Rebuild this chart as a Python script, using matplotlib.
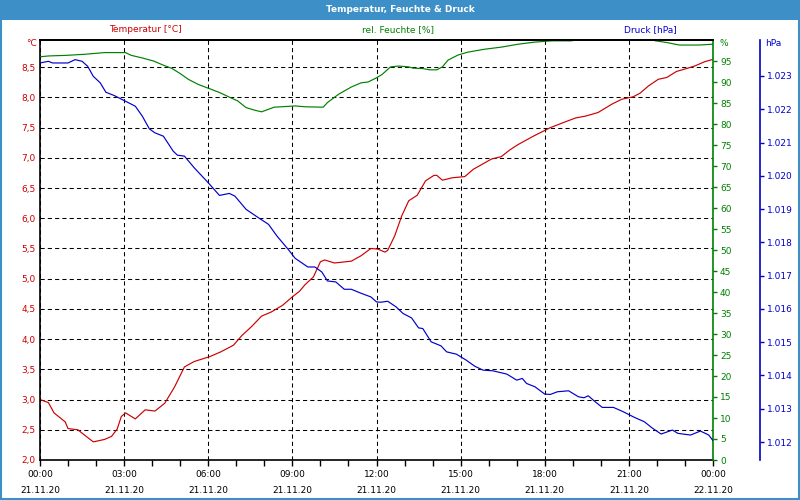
import matplotlib
matplotlib.use("Agg")
import matplotlib.pyplot as plt
import matplotlib.dates as mdates
import matplotlib.ticker as mticker
from matplotlib.patches import Rectangle
import numpy as np
import pandas as pd

# ---------------- data ----------------
base_day = "2020-11-21"

temp_hours = [0.0, 0.3, 0.5, 0.9, 1.0, 1.35, 1.65, 1.9, 2.3, 2.55, 2.75, 2.9, 3.05, 3.4, 3.75,
              4.1, 4.45, 4.8, 5.15, 5.5, 6.05, 6.45, 6.9, 7.2, 7.55, 7.9, 8.25, 8.65, 9.0, 9.25,
              9.45, 9.75, 10.0, 10.15, 10.5, 11.1, 11.45, 11.8, 12.05, 12.3, 12.4, 12.65, 12.9,
              13.15, 13.45, 13.75, 14.05, 14.15, 14.35, 14.7, 15.15, 15.45, 16.1, 16.45, 16.75,
              17.05, 17.6, 18.2, 18.7, 19.1, 19.45, 19.9, 20.4, 20.75, 21.15, 21.4, 21.7, 22.05,
              22.35, 22.7, 23.0, 23.35, 23.7, 24.0]
temp_values = [3.00, 2.95, 2.78, 2.63, 2.52, 2.50, 2.39, 2.30, 2.34, 2.39, 2.51, 2.72, 2.78, 2.68, 2.83,
               2.81, 2.94, 3.21, 3.54, 3.63, 3.71, 3.79, 3.90, 4.06, 4.21, 4.38, 4.45, 4.56, 4.70, 4.79,
               4.90, 5.03, 5.28, 5.31, 5.26, 5.29, 5.38, 5.50, 5.49, 5.44, 5.47, 5.71, 6.04,
               6.29, 6.38, 6.62, 6.71, 6.71, 6.63, 6.67, 6.69, 6.81, 6.98, 7.02, 7.13,
               7.22, 7.36, 7.50, 7.59, 7.66, 7.69, 7.75, 7.89, 7.97, 8.01, 8.07, 8.19, 8.30,
               8.33, 8.43, 8.47, 8.52, 8.59, 8.63]

hum_hours = [0.0, 0.3, 0.95, 1.6, 2.3, 3.05, 3.25, 3.6, 4.05, 4.4, 4.7, 5.0, 5.3, 5.65, 6.05, 6.4,
             6.75, 7.05, 7.35, 7.65, 7.9, 8.15, 8.35, 9.1, 9.45, 10.1, 10.25, 10.65, 11.1, 11.45,
             11.7, 12.0, 12.2, 12.5, 12.8, 13.15, 13.3, 13.65, 13.9, 14.15, 14.35, 14.55, 14.9,
             15.25, 15.85, 16.45, 17.05, 17.65, 18.25, 18.95, 19.1, 19.5, 21.0, 21.85, 21.95,
             22.35, 22.8, 23.5, 24.0]
hum_values = [96.0, 96.2, 96.35, 96.6, 97.0, 97.0, 96.35, 95.8, 95.0, 94.0, 93.25, 92.0, 90.6, 89.4,
              88.4, 87.5, 86.4, 85.5, 83.9, 83.3, 82.9, 83.5, 84.0, 84.3, 84.1, 84.0, 85.1, 87.1,
              88.8, 89.8, 90.0, 91.0, 91.8, 93.6, 93.8, 93.6, 93.3, 93.2, 92.9, 92.9, 93.6, 95.2,
              96.4, 97.1, 97.8, 98.3, 99.0, 99.5, 99.8, 99.8, 100.0, 100.0, 100.0, 100.0, 99.8,
              99.4, 98.8, 98.8, 99.0]

press_hours = [0.0, 0.3, 0.45, 1.0, 1.25, 1.5, 1.7, 1.9, 2.15, 2.35, 2.65, 3.05, 3.4, 3.65, 3.9,
               4.1, 4.4, 4.75, 4.9, 5.15, 5.5, 6.0, 6.4, 6.75, 6.95, 7.35, 7.7, 8.15, 8.45, 8.85,
               9.1, 9.55, 9.8, 10.05, 10.25, 10.55, 10.85, 11.1, 11.45, 11.8, 12.0, 12.15, 12.4,
               12.7, 12.95, 13.25, 13.5, 13.65, 13.95, 14.3, 14.5, 14.85, 15.2, 15.5, 15.8, 16.15,
               16.65, 17.0, 17.2, 17.35, 17.65, 18.0, 18.2, 18.45, 18.85, 19.2, 19.4, 19.55, 19.8,
               20.05, 20.45, 20.8, 21.2, 21.55, 21.85, 22.15, 22.55, 22.75, 23.2, 23.55, 23.85, 24.0]
press_values = [1.02339, 1.02344, 1.02339, 1.02339, 1.02349, 1.02344, 1.02329, 1.02299, 1.02279,
                1.02251, 1.02241, 1.02224, 1.02209, 1.02179, 1.02141, 1.02129, 1.02119, 1.02074,
                1.02062, 1.02059, 1.02024, 1.01979, 1.01941, 1.01947, 1.01939, 1.01899, 1.01879,
                1.01854, 1.01819, 1.01779, 1.01752, 1.01726, 1.01726, 1.01711, 1.01684, 1.01681,
                1.01659, 1.01659, 1.01647, 1.01636, 1.01621, 1.01620, 1.01623, 1.01606, 1.01586,
                1.01573, 1.01543, 1.01541, 1.01501, 1.01489, 1.01471, 1.01464, 1.01446, 1.01428,
                1.01416, 1.01414, 1.01404, 1.01386, 1.01391, 1.01376, 1.01366, 1.01344, 1.01343,
                1.01351, 1.01354, 1.01336, 1.01333, 1.01339, 1.01321, 1.01304, 1.01304, 1.01291,
                1.01274, 1.01261, 1.01241, 1.01224, 1.01236, 1.01226, 1.01221, 1.01233, 1.01221,
                1.01204]

temp_ticks = [2.0, 2.5, 3.0, 3.5, 4.0, 4.5, 5.0, 5.5, 6.0, 6.5, 7.0, 7.5, 8.0, 8.5]
hum_ticks = list(range(0, 100, 5))
press_ticks = [1.012, 1.013, 1.014, 1.015, 1.016, 1.017, 1.018, 1.019, 1.020, 1.021, 1.022, 1.023]

title = "Temperatur, Feuchte & Druck"
series_labels = ["Temperatur [°C]", "rel. Feuchte [%]", "Druck [hPa]"]
units = ["°C", "%", "hPa"]

# ---------------- style ----------------
RED = "#cc0000"
GREEN = "#008000"
BLUE = "#0000cc"
BAR = "#3d8fc8"
FS = 6.5
LW = 0.85
plt.rcParams['font.family'] = ['DejaVu Sans']


def to_times(hours):
    return (pd.Timestamp(base_day) + pd.to_timedelta(hours, unit="h")).to_pydatetime()


fig = plt.figure(figsize=(8, 5), dpi=100)
fig.patch.set_facecolor("white")

# title bar and frame
fig.patches.append(Rectangle((0, 0.96), 1, 0.04, transform=fig.transFigure,
                             facecolor=BAR, edgecolor="none", zorder=0))
fig.patches.append(Rectangle((0.001, 0.002), 0.998, 0.997, transform=fig.transFigure,
                             facecolor="none", edgecolor=BAR, linewidth=1.5, zorder=0))
fig.text(0.5, 1 - 9 / 500, title, color="white", fontsize=6.5, fontweight="bold",
         ha="center", va="center")

ax = fig.add_axes([0.05, 0.08, 0.84125, 0.84])
ax2 = ax.twinx()
ax3 = ax.twinx()

dash = (0, (4, 3))
ax.plot(to_times(temp_hours), temp_values, color=RED, lw=LW)
ax2.plot(to_times(hum_hours), hum_values, color=GREEN, lw=LW)
ax3.plot(to_times(press_hours), press_values, color=BLUE, lw=LW)

# x axis
ax.set_xlim(to_times([0.0])[0], to_times([24.0])[0])
ax.xaxis.set_major_locator(mdates.HourLocator(byhour=range(0, 24, 3)))
ax.xaxis.set_minor_locator(mdates.HourLocator())
ax.xaxis.set_major_formatter(mdates.DateFormatter("%H:%M\n%d.%m.%y"))
ax.tick_params(axis="x", which="both", length=4, width=1, direction="out",
               labelsize=FS, pad=3)
plt.setp(ax.get_xticklabels(), linespacing=2.0)

# temperature axis
ax.set_ylim(2.0, 8.95)
ax.set_yticks(temp_ticks)
ax.yaxis.set_major_formatter(mticker.FuncFormatter(lambda v, p: f"{v:.1f}".replace(".", ",")))
ax.tick_params(axis="y", length=0, pad=3, labelsize=FS, labelcolor=RED)
ax.grid(True, which="major", color="black", linestyle=dash, linewidth=0.75)
ax.spines["right"].set_visible(False)
for s in ["left", "bottom", "top"]:
    ax.spines[s].set_color("black")
    ax.spines[s].set_linewidth(1.2)

# humidity axis
ax2.set_ylim(0, 100)
ax2.set_yticks(hum_ticks)
ax2.tick_params(axis="y", length=3, width=1, pad=2, labelsize=FS, colors=GREEN)
for s in ["left", "bottom"]:
    ax2.spines[s].set_visible(False)
ax2.spines["top"].set_color("black")
ax2.spines["top"].set_linewidth(1.4)
ax2.spines["top"].set_zorder(3)
ax2.spines["right"].set_color(GREEN)
ax2.spines["right"].set_linewidth(1.2)
ax2.spines["right"].set_zorder(3)

# pressure axis
ax3.spines["right"].set_position(("axes", 720 / 673))
ax3.set_ylim(1.01146, 1.02408)
ax3.set_yticks(press_ticks)
ax3.yaxis.set_major_formatter(mticker.FormatStrFormatter("%.3f"))
ax3.tick_params(axis="y", length=3, width=1, pad=2, labelsize=FS, colors=BLUE)
for s in ["left", "bottom", "top"]:
    ax3.spines[s].set_visible(False)
ax3.spines["right"].set_color(BLUE)
ax3.spines["right"].set_linewidth(1.2)

# series labels and units
for label, xpix, col in zip(series_labels, [145, 398, 650], [RED, GREEN, BLUE]):
    fig.text(xpix / 800, 1 - 30 / 500, label, color=col, fontsize=FS, ha="center", va="center")
fig.text(37 / 800, 1 - 44 / 500, units[0], color=RED, fontsize=FS, ha="right", va="center")
fig.text(720 / 800, 1 - 44 / 500, units[1], color=GREEN, fontsize=FS, ha="left", va="center")
fig.text(765 / 800, 1 - 44 / 500, units[2], color=BLUE, fontsize=FS, ha="left", va="center")

fig.savefig("out.png", dpi=100)
